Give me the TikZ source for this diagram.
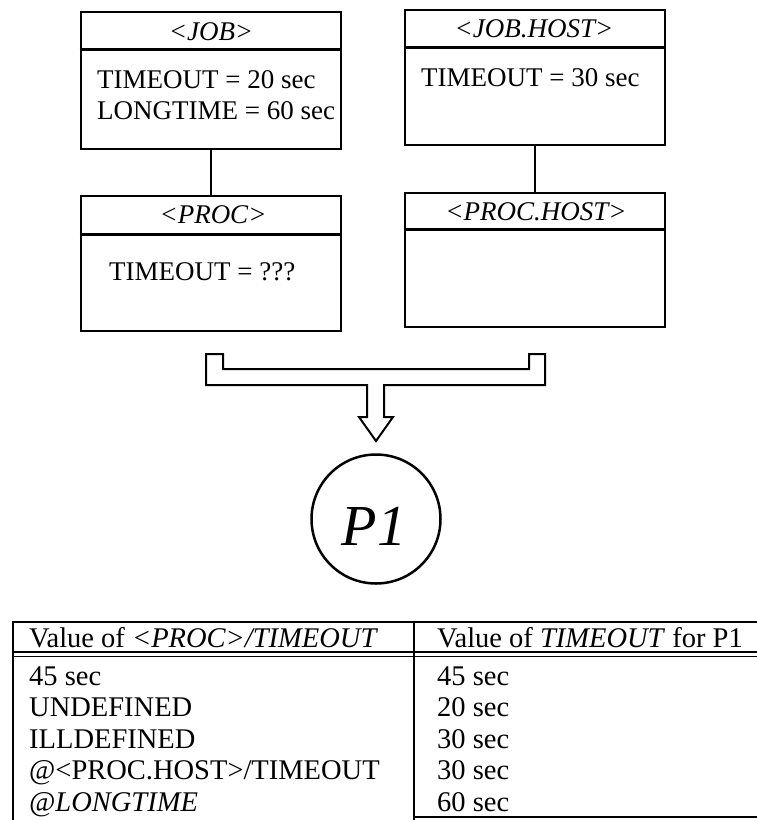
\documentclass[tikz,border=0pt]{standalone}
\usepackage{fontspec}
\setmainfont{Liberation Serif}
\begin{document}
\begin{tikzpicture}[x=1pt,y=-1pt,
  box/.style={draw, line width=2.8pt, rectangle, inner sep=0pt},
  hline/.style={line width=2.8pt},
  conn/.style={line width=2pt},
  tline/.style={line width=1.6pt},
  txt/.style={anchor=base west, inner sep=0pt, font=\fontsize{27}{31}\selectfont},
  ttxt/.style={anchor=base west, inner sep=0pt, font=\fontsize{28.5}{31}\selectfont},
  hdr/.style={anchor=base, inner sep=0pt, font=\fontsize{27}{31}\selectfont\itshape}]
\useasboundingbox (0,0) rectangle (757,820);

% boxes
\node[box, minimum width=260pt, minimum height=137pt] (job) at (211,80.5) {};
\node[box, minimum width=260pt, minimum height=135pt] (proc) at (211,263.5) {};
\node[box, minimum width=260pt, minimum height=135pt] (jobhost) at (535,77.5) {};
\node[box, minimum width=260pt, minimum height=134pt] (prochost) at (535,260) {};

% header separators
\draw[hline] (job.north west) ++(0,39) -- ++(260,0);
\draw[hline] (proc.north west) ++(0,40) -- ++(260,0);
\draw[hline] (jobhost.north west) ++(0,39) -- ++(260,0);
\draw[hline] (prochost.north west) ++(0,38) -- ++(260,0);

% headers
\node[hdr] (jobh) at (211,40) {<JOB>};
\node[hdr] (proch) at (213,223) {<PROC>};
\node[hdr] (jobhosth) at (534,37) {<JOB.HOST>};
\node[hdr] (prochosth) at (536,220) {<PROC.HOST>};

% contents
\node[txt] (t1) at (97,88) {TIMEOUT = 20 sec};
\node[txt] (t2) at (97,119) {LONGTIME = 60 sec};
\node[txt] (t3) at (421,86) {TIMEOUT = 30 sec};
\node[txt] (t4) at (109,280) {TIMEOUT = ???};

% connectors
\draw[conn] (job.south) -- (proc.north);
\draw[conn] (jobhost.south) -- (prochost.north);

% merge arrow
\coordinate (tip) at (376,441);
\draw[line width=2pt, line join=miter]
  (206,354) -- (223,354) -- (223,369) -- (529,369) -- (529,354) -- (545,354)
  -- (545,385) -- (384,385) -- (384,417) -- (393,417) -- (tip)
  -- (359,417) -- (367,417) -- (367,385) -- (206,385) -- cycle;

% process
\node[draw, circle, line width=2.5pt, minimum size=129pt, inner sep=0pt] (p1) at (376,519) {};
\node[inner sep=0pt, font=\fontsize{58}{58}\selectfont\itshape] (p1t) at (374,526) {P1};

% table
\draw[tline] (13,622) -- (757,622);
\draw[tline] (13,652) -- (757,652);
\draw[tline] (13,656.5) -- (757,656.5);
\draw[tline] (13,621) -- (13,820);
\draw[tline] (414,621) -- (414,820);
\draw[tline] (414,817) -- (757,817);

\node[ttxt] (h1) at (29,647) {Value of \textit{<PROC>/TIMEOUT}};
\node[ttxt] (h2) at (437,647) {Value of \textit{TIMEOUT} for P1};

\node[ttxt] (a1) at (29,685) {45 sec};
\node[ttxt] (a2) at (29,716.5) {UNDEFINED};
\node[ttxt] (a3) at (29,748.5) {ILLDEFINED};
\node[ttxt] (a4) at (29,779.5) {@<PROC.HOST>/TIMEOUT};
\node[ttxt] (a5) at (29,811.5) {\textit{@LONGTIME}};

\node[ttxt] (b1) at (437,685) {45 sec};
\node[ttxt] (b2) at (437,716.5) {20 sec};
\node[ttxt] (b3) at (437,748.5) {30 sec};
\node[ttxt] (b4) at (437,779.5) {30 sec};
\node[ttxt] (b5) at (437,811.5) {60 sec};
\end{tikzpicture}
\end{document}
